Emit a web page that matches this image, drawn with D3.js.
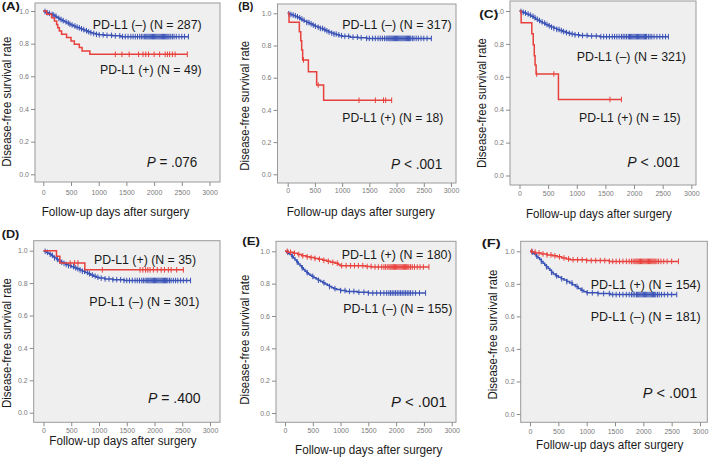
<!DOCTYPE html>
<html><head><meta charset="utf-8">
<script src="https://cdn.jsdelivr.net/npm/d3@7"></script>
<style>body{margin:0;background:#fff}svg{display:block}</style>
</head><body><svg id="c" width="709" height="457"></svg>
<script>
// ---------- DATA ----------
const xTicks = [0, 500, 1000, 1500, 2000, 2500, 3000];
const yTicks = [0, 0.2, 0.4, 0.6, 0.8, 1.0];
const panelLetters = ["(A)", "(B)", "(C)", "(D)", "(E)", "(F)"];
const negLabels = ["PD-L1 (–) (N = 287)", "PD-L1 (–) (N = 317)", "PD-L1 (–) (N = 321)", "PD-L1 (–) (N = 301)", "PD-L1 (–) (N = 155)", "PD-L1 (–) (N = 181)"];
const posLabels = ["PD-L1 (+) (N = 49)", "PD-L1 (+) (N = 18)", "PD-L1 (+) (N = 15)", "PD-L1 (+) (N = 35)", "PD-L1 (+) (N = 180)", "PD-L1 (+) (N = 154)"];
const pOps = ["=", "<", "<", "=", "<", "<"];
const pNums = [".076", ".001", ".001", ".400", ".001", ".001"];
const xTitle = "Follow-up  days after surgery";
const yTitle = "Disease-free survival  rate";

// Kaplan-Meier steps: [day, survival after event]
const negA = [[20,0.997],[40,0.993],[60,0.99],[90,0.986],[120,0.983],[150,0.979],[180,0.975],[210,0.968],[240,0.961],[270,0.955],[300,0.948],[340,0.941],[380,0.934],[420,0.927],[460,0.92],[500,0.914],[540,0.908],[580,0.902],[620,0.897],[660,0.891],[700,0.886],[750,0.879],[800,0.873],[850,0.867],[900,0.862],[950,0.857],[1000,0.854],[1100,0.851],[1250,0.848],[1400,0.843]];
const negEndA = 2620;
const negCensorA = [30,70,110,160,190,230,280,320,360,410,450,480,520,570,610,650,690,730,780,820,860,910,960,1010,1080,1150,1230,1300,1380,1430,1480,1530,1580,1620,1660,1700,1740,1770,1800,1830,1850,1870,1890,1910,1930,1950,1970,1990,2010,2030,2050,2070,2090,2110,2130,2150,2170,2190,2210,2230,2250,2270,2300,2330,2360,2400,2450,2500,2550,2620];
const posA = [[60,0.98],[150,0.959],[200,0.939],[240,0.918],[260,0.898],[290,0.878],[330,0.857],[420,0.837],[500,0.816],[560,0.796],[650,0.776],[700,0.755],[840,0.735]];
const posEndA = 2600;
const posCensorA = [1300,1420,1550,1720,1800,1850,1900,2000,2100,2200,2240,2280,2330,2380,2600];

const negB = [[20,0.997],[50,0.993],[80,0.989],[110,0.985],[150,0.979],[190,0.972],[230,0.965],[270,0.957],[310,0.95],[350,0.943],[400,0.935],[450,0.927],[500,0.92],[550,0.913],[600,0.906],[650,0.899],[700,0.891],[750,0.884],[800,0.877],[850,0.871],[900,0.866],[950,0.861],[1000,0.857],[1150,0.852],[1300,0.848],[1450,0.844]];
const negEndB = 2640;
const negCensorB = [20,60,100,140,180,220,260,300,350,390,430,470,510,560,600,640,680,720,760,810,850,890,940,990,1050,1120,1200,1280,1350,1450,1500,1560,1610,1660,1700,1740,1780,1810,1840,1860,1880,1900,1920,1940,1960,1980,2000,2020,2040,2060,2080,2100,2120,2140,2160,2180,2200,2220,2240,2260,2290,2320,2360,2400,2450,2500,2560,2640];
const posB = [[25,0.944],[214,0.886],[240,0.829],[257,0.772],[275,0.71],[380,0.637],[532,0.555],[660,0.46]];
const posEndB = 1910;
const posCensorB = [290,560,1310,1610,1760,1800,1910];

const negC = [[20,0.997],[50,0.992],[80,0.988],[120,0.982],[160,0.975],[200,0.968],[240,0.96],[280,0.95],[320,0.942],[360,0.934],[400,0.927],[450,0.918],[500,0.91],[550,0.902],[600,0.895],[650,0.888],[700,0.881],[750,0.875],[800,0.869],[850,0.864],[900,0.86],[960,0.855],[1050,0.851],[1200,0.848],[1400,0.844]];
const negEndC = 2600;
const negCensorC = [25,65,105,150,190,235,270,310,350,395,440,480,520,560,600,650,690,730,770,820,870,920,970,1030,1100,1180,1260,1340,1420,1470,1520,1570,1620,1660,1700,1740,1780,1810,1840,1870,1900,1920,1940,1960,1980,2000,2020,2040,2060,2080,2100,2120,2140,2160,2180,2200,2220,2250,2280,2310,2350,2400,2450,2500,2550,2600];
const posC = [[29,0.928],[215,0.862],[240,0.795],[258,0.728],[272,0.672],[290,0.617],[680,0.462]];
const posEndC = 1780;
const posCensorC = [300,600,1580,1780];

const negD = [[20,0.996],[50,0.99],[80,0.984],[110,0.978],[140,0.971],[170,0.963],[200,0.955],[240,0.946],[280,0.937],[320,0.929],[360,0.922],[400,0.915],[450,0.908],[500,0.901],[550,0.894],[600,0.888],[650,0.881],[700,0.873],[750,0.866],[800,0.858],[850,0.85],[900,0.843],[950,0.836],[1000,0.831],[1100,0.826],[1250,0.821],[1450,0.816]];
const negEndD = 2650;
const negCensorD = [30,70,120,160,200,250,290,330,370,410,450,490,540,580,620,660,700,740,790,830,880,930,980,1040,1110,1180,1250,1320,1390,1450,1500,1550,1600,1650,1690,1730,1770,1800,1830,1860,1880,1900,1920,1940,1960,1980,2000,2020,2040,2060,2080,2100,2120,2140,2160,2180,2200,2220,2240,2270,2300,2340,2380,2420,2470,2520,2580,2650];
const posD = [[234,0.965],[295,0.924],[745,0.882]];
const posEndD = 2520;
const posCensorD = [480,560,620,1060,1740,1790,1840,1880,1920,1980,2050,2120,2180,2250,2300,2400,2520];

const posE = [[60,0.994],[150,0.988],[230,0.98],[300,0.972],[380,0.966],[450,0.961],[530,0.956],[600,0.951],[680,0.944],[750,0.938],[820,0.932],[900,0.926],[960,0.918],[990,0.911],[1450,0.906],[1560,0.903]];
const posEndE = 2590;
const posCensorE = [40,100,170,250,320,400,470,540,620,700,780,860,940,1020,1100,1180,1250,1320,1400,1480,1550,1620,1680,1740,1780,1810,1840,1870,1890,1910,1930,1950,1970,1990,2010,2030,2050,2070,2090,2110,2130,2150,2170,2190,2210,2230,2260,2290,2330,2380,2430,2490,2590];
const negE = [[30,0.994],[60,0.987],[90,0.98],[120,0.97],[150,0.958],[180,0.946],[210,0.934],[240,0.922],[270,0.91],[300,0.898],[330,0.887],[360,0.877],[390,0.868],[420,0.86],[450,0.852],[480,0.845],[520,0.837],[560,0.829],[600,0.821],[640,0.814],[680,0.806],[720,0.798],[760,0.79],[800,0.782],[840,0.775],[880,0.769],[930,0.763],[1000,0.757],[1100,0.752],[1300,0.747],[1500,0.742]];
const negEndE = 2530;
const negCensorE = [50,130,220,310,400,500,600,700,800,900,1000,1080,1160,1240,1330,1420,1500,1580,1650,1720,1780,1830,1870,1900,1930,1960,1990,2020,2050,2080,2110,2140,2170,2200,2230,2260,2300,2350,2420,2530];

const posF = [[40,0.995],[100,0.99],[200,0.984],[300,0.978],[400,0.972],[480,0.966],[560,0.959],[640,0.953],[710,0.948],[1000,0.943],[1400,0.938]];
const posEndF = 2620;
const posCensorF = [30,90,160,230,300,370,440,520,600,680,760,840,920,1000,1080,1160,1240,1320,1400,1460,1520,1580,1640,1700,1750,1790,1820,1850,1870,1890,1910,1930,1950,1970,1990,2010,2030,2050,2070,2090,2110,2130,2150,2170,2190,2210,2240,2270,2310,2360,2420,2500,2620];
const negF = [[20,0.995],[50,0.988],[80,0.98],[110,0.97],[140,0.96],[170,0.95],[200,0.938],[230,0.926],[260,0.915],[290,0.905],[320,0.895],[350,0.883],[380,0.871],[410,0.86],[450,0.849],[500,0.84],[550,0.831],[600,0.823],[650,0.814],[700,0.805],[750,0.795],[800,0.784],[850,0.772],[900,0.761],[950,0.752],[1000,0.745],[1200,0.74],[1420,0.734]];
const negEndF = 2590;
const negCensorF = [40,120,200,290,380,470,560,650,740,830,920,1010,1100,1200,1300,1400,1460,1520,1580,1640,1700,1750,1790,1820,1850,1880,1900,1920,1940,1960,1980,2000,2020,2040,2060,2080,2100,2120,2140,2160,2180,2200,2220,2250,2280,2320,2370,2430,2500,2590];

const curves = [
  {neg:[negA,negEndA,negCensorA], pos:[posA,posEndA,posCensorA]},
  {neg:[negB,negEndB,negCensorB], pos:[posB,posEndB,posCensorB]},
  {neg:[negC,negEndC,negCensorC], pos:[posC,posEndC,posCensorC]},
  {neg:[negD,negEndD,negCensorD], pos:[posD,posEndD,posCensorD]},
  {neg:[negE,negEndE,negCensorE], pos:[posE,posEndE,posCensorE]},
  {neg:[negF,negEndF,negCensorF], pos:[posF,posEndF,posCensorF]}
];

// ---------- LAYOUT (pixel positions) ----------
const layout = [
 {frame:[35,3,220,182], x:[43.3,209.5], y:[174.3,11], pad:4, letter:[1.7,20,6], neg:[92.7,201.7,24], pos:[100,201.7,69], p:[146.7,197.3,161.7], xt:[41.7,189.3,212], yt:[6.5,101.7]},
 {frame:[277.5,4,456,183], x:[287.7,451], y:[174.3,13.3], pad:1.5, letter:[238.3,253.3,6], neg:[342.3,451.7,24], pos:[342.3,443.3,117.3], p:[391,442.3,163.3], xt:[286.7,435,211.7], yt:[245,105.8]},
 {frame:[510,1,696,185], x:[519.5,691.3], y:[175.5,11], pad:2.5, letter:[479.3,498.3,14], neg:[576.7,686,56.7], pos:[579,680.7,117.3], p:[627.3,680,161.7], xt:[526,671.7,213.3], yt:[481.7,103]},
 {frame:[33.7,240.7,220,422.3], x:[43.5,210], y:[412.7,250.7], pad:1.7, letter:[1.7,19.3,234], neg:[89.3,199.3,301.3], pos:[94,196,259], p:[148,200.7,398], xt:[49.3,196.7,440.7], yt:[6.5,343]},
 {frame:[276,241.3,456,422.3], x:[285,451.7], y:[413,251.3], pad:1.5, letter:[242.3,260,241.3], neg:[343.3,452.3,308], pos:[341.7,451.7,254.7], p:[391,446.7,401.3], xt:[295,442.3,449.7], yt:[245,339.7]},
 {frame:[520.7,241.3,707.3,422.3], x:[530,700], y:[414,251.3], pad:2.5, letter:[481.7,500.7,243], neg:[590.7,700.7,316.3], pos:[590.7,700.7,284.7], p:[642.7,697.3,393], xt:[536,683.3,444.7], yt:[493,334.5]}
];

const BLUE = "#3a52b6", RED = "#e8403c";
const FONT = "'Liberation Sans', Arial, sans-serif";
const svg = d3.select("#c");

function fitText(g, str, x1, x2, cy, fs, weight) {
  return g.append("text").attr("x", x1).attr("y", cy + 0.35 * fs)
    .attr("font-family", FONT).attr("font-size", fs).attr("font-weight", weight || "normal")
    .attr("fill", "#1a1a1a").attr("textLength", x2 - x1).attr("lengthAdjust", "spacingAndGlyphs")
    .text(str);
}

function survAt(steps, t) {
  let s = 1;
  for (const [tt, ss] of steps) { if (tt <= t) s = ss; else break; }
  return s;
}

layout.forEach((L, i) => {
  const g = svg.append("g");
  const [fl, ft, fr, fb] = L.frame;
  const x = d3.scaleLinear().domain([0, 3000]).range(L.x);
  const y = d3.scaleLinear().domain([0, 1]).range(L.y);

  g.append("rect").attr("x", fl).attr("y", ft).attr("width", fr - fl).attr("height", fb - ft)
    .attr("fill", "#efefef").attr("stroke", "#9a9a9a").attr("stroke-width", 1);

  const ay = g.append("g").attr("transform", `translate(${fl},0)`)
    .call(d3.axisLeft(y).tickValues(yTicks).tickFormat(d3.format(".1f")).tickSize(4).tickPadding(2));
  const ax = g.append("g").attr("transform", `translate(0,${fb})`)
    .call(d3.axisBottom(x).tickValues(xTicks).tickFormat(d3.format("d")).tickSize(4).tickPadding(L.pad));
  [ay, ax].forEach(a => {
    a.select(".domain").remove();
    a.selectAll("line").attr("stroke", "#8a8a8a");
    a.selectAll("text").attr("fill", "#7a7a7a").attr("font-size", 7).attr("font-family", FONT);
  });

  const line = d3.line().x(d => x(d[0])).y(d => y(d[1])).curve(d3.curveStepAfter);
  const drawCurve = (spec, color) => {
    const [steps, end, cens] = spec;
    const pts = [[0, 1], ...steps, [end, steps[steps.length - 1][1]]];
    g.append("path").attr("d", line(pts)).attr("fill", "none").attr("stroke", color).attr("stroke-width", 1.5);
    g.selectAll(null).data(cens).enter().append("line")
      .attr("x1", d => x(d)).attr("x2", d => x(d))
      .attr("y1", d => y(survAt(steps, d)) - 2.8).attr("y2", d => y(survAt(steps, d)) + 2.8)
      .attr("stroke", color).attr("stroke-width", 1);
  };
  drawCurve(curves[i].neg, BLUE);
  drawCurve(curves[i].pos, RED);

  fitText(g, panelLetters[i], L.letter[0], L.letter[1], L.letter[2], 10.5, "bold");
  fitText(g, negLabels[i], L.neg[0], L.neg[1], L.neg[2], 13);
  fitText(g, posLabels[i], L.pos[0], L.pos[1], L.pos[2], 13);
  const pt = g.append("text").attr("x", L.p[0]).attr("y", L.p[2] + 0.35 * 15)
    .attr("font-family", FONT).attr("font-size", 15).attr("fill", "#1a1a1a")
    .attr("textLength", L.p[1] - L.p[0]).attr("lengthAdjust", "spacingAndGlyphs");
  pt.append("tspan").attr("font-style", "italic").text("P");
  pt.append("tspan").text(" " + pOps[i] + " " + pNums[i]);

  fitText(g, xTitle, L.xt[0], L.xt[1], L.xt[2], 12.5);
  g.append("text").attr("transform", `translate(${L.yt[0]},${L.yt[1]}) rotate(-90)`)
    .attr("x", 0).attr("y", 0.35 * 12.5).attr("text-anchor", "middle")
    .attr("font-family", FONT).attr("font-size", 12.5).attr("fill", "#1a1a1a")
    .attr("textLength", 130).attr("lengthAdjust", "spacingAndGlyphs").text(yTitle);
});
</script></body></html>
